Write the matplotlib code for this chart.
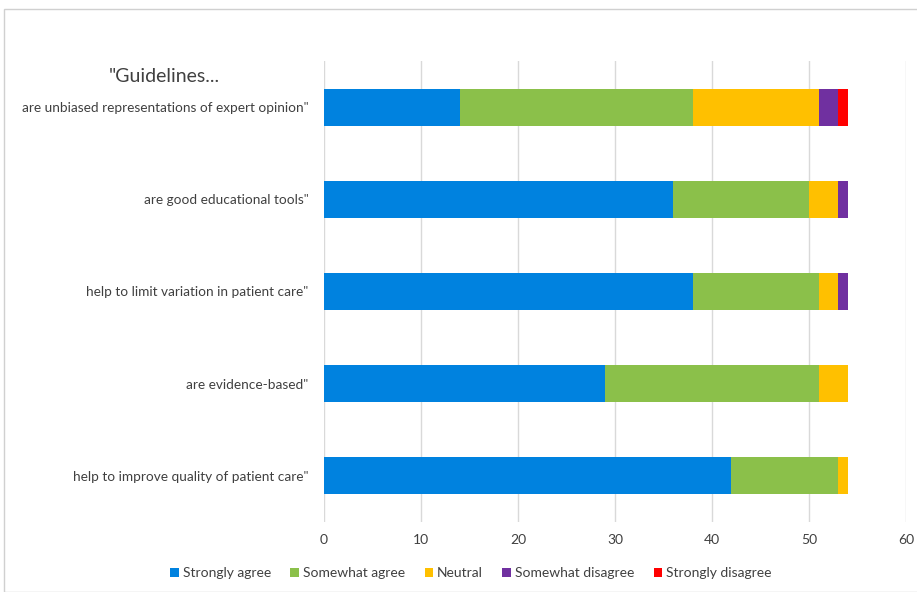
import matplotlib
matplotlib.use("Agg")
import matplotlib.pyplot as plt
from matplotlib.patches import Rectangle
import numpy as np

categories = [
    'are unbiased representations of expert opinion"',
    'are good educational tools"',
    'help to limit variation in patient care"',
    'are evidence-based"',
    'help to improve quality of patient care"',
]
series_names = ["Strongly agree", "Somewhat agree", "Neutral", "Somewhat disagree", "Strongly disagree"]
strongly_agree = [14, 36, 38, 29, 42]
somewhat_agree = [24, 14, 13, 22, 11]
neutral = [13, 3, 2, 3, 1]
somewhat_disagree = [2, 1, 1, 0, 0]
strongly_disagree = [1, 0, 0, 0, 0]
x_ticks = [0, 10, 20, 30, 40, 50, 60]
header = '"Guidelines...'

colors = ["#0082DF", "#8BC04A", "#FFC000", "#7030A0", "#FF0000"]

plt.rcParams['font.family'] = ['Lato', 'DejaVu Sans']

W, H = 917, 592
fig = plt.figure(figsize=(W / 100, H / 100), dpi=100)
fig.patch.set_facecolor("white")

# outer frame
fig.patches.append(Rectangle((4 / W, 0), 1.0, 1 - 9 / H, transform=fig.transFigure,
                             fill=False, edgecolor="#D0D0D0", linewidth=1.0))

left, right, top, bottom = 324, 906, 61, 522
ax = fig.add_axes([left / W, 1 - bottom / H, (right - left) / W, (bottom - top) / H])

series = [strongly_agree, somewhat_agree, neutral, somewhat_disagree, strongly_disagree]
y = np.arange(len(categories))
base = np.zeros(len(categories))
for name, vals, c in zip(series_names, series, colors):
    vals = np.array(vals, dtype=float)
    ax.barh(y, vals, left=base, height=0.4, color=c, label=name, zorder=3)
    base += vals

ax.set_ylim(len(categories) - 0.5, -0.5)
ax.set_xlim(0, 60)
ax.set_xticks(x_ticks)
ax.set_xticklabels([str(t) for t in x_ticks])
ax.set_yticks(y)
ax.set_yticklabels(categories)
ax.tick_params(axis='both', length=0, colors="#404040", labelsize=10)
ax.tick_params(axis='y', pad=11, labelsize=9.8)
ax.tick_params(axis='x', pad=9)
ax.grid(axis='x', color="#D9D9D9", linewidth=1, zorder=0)
for s in ax.spines.values():
    s.set_visible(False)

fig.text(164 / W, 1 - 76 / H, header, ha='center', va='center', fontsize=14, color="#404040")

leg = fig.legend(loc='center', bbox_to_anchor=(471 / W, 1 - 573 / H), ncol=5, frameon=False,
                 fontsize=10, handlelength=0.6, handleheight=0.6, handletextpad=0.3,
                 columnspacing=1.4, labelcolor="#404040")

fig.savefig("out.png", dpi=100, facecolor="white")
